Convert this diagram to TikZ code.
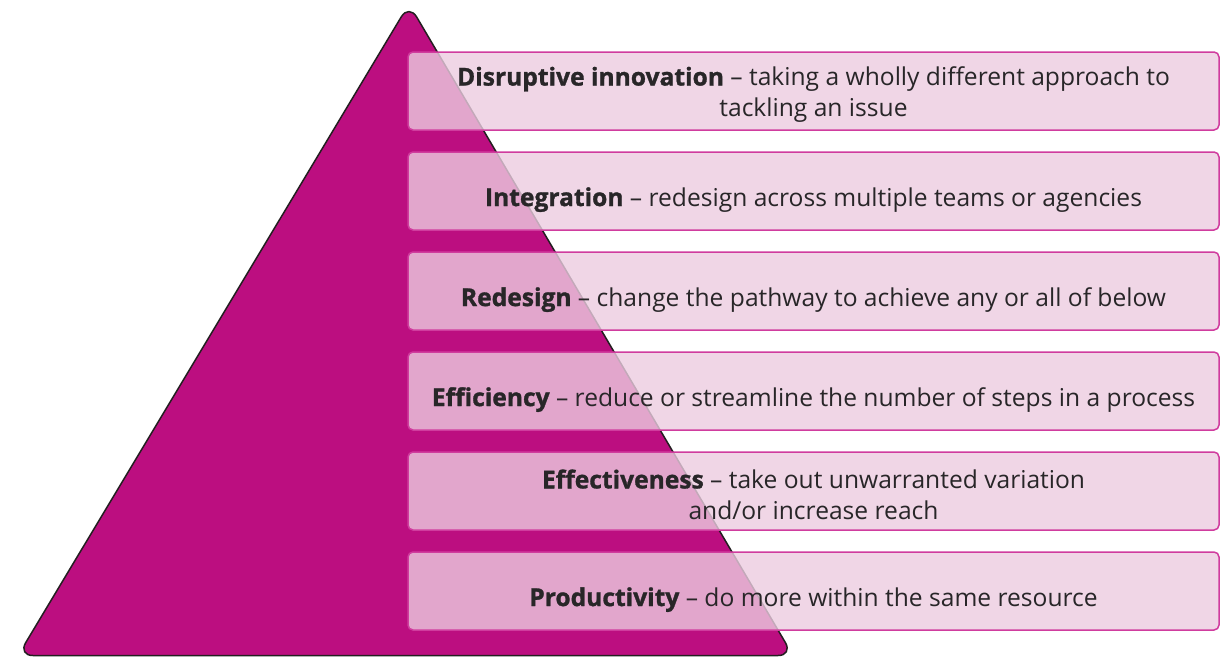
\documentclass[tikz,border=0pt]{standalone}
\usepackage{fontspec}
\setmainfont{Open Sans}[BoldFeatures={FakeBold=1.2}]
\usepackage{tikz}
\definecolor{pyrmag}{RGB}{188,14,128}
\definecolor{pyredge}{RGB}{35,31,32}
\definecolor{layerfill}{RGB}{236,204,224}
\definecolor{layeredge}{RGB}{208,60,158}
\definecolor{textgray}{RGB}{40,38,40}
\newcommand{\liftline}{\rule{0pt}{26pt}}

\begin{document}
\begin{tikzpicture}[x=1pt, y=-1pt,
    layer/.style={shape=rectangle, draw=layeredge, line width=1.5pt, fill=layerfill, fill opacity=0.8, text opacity=1,
      rounded corners=5pt, minimum width=811pt, minimum height=78pt, inner sep=0pt, align=center,
      text=textgray, font=\fontsize{24.6}{31}\selectfont, execute at begin node={\rule{0pt}{36pt}}}]
    \useasboundingbox (0,0) rectangle (1221,657);
    % pyramid
    \draw[fill=pyrmag, draw=pyredge, line width=1.5pt, rounded corners=15pt]
        (400,655.5) -- (18,655.5) -- (409,4) -- (793,655.5) -- cycle;

    \node[layer] (D) at (813.5,91) {\liftline\textbf{Disruptive innovation} -- taking a wholly different approach to\\tackling an issue};
    \node[layer] (I) at (813.5,191) {\textbf{Integration} -- redesign across multiple teams or agencies};
    \node[layer] (R) at (813.5,291) {\textbf{Redesign} -- change the pathway to achieve any or all of below};
    \node[layer] (E1) at (813.5,391) {\textbf{Efficiency} -- reduce or streamline the number of steps in a process};
    \node[layer] (E2) at (813.5,491) {\liftline\textbf{Effectiveness} -- take out unwarranted variation\\and/or increase reach};
    \node[layer] (P) at (813.5,591) {\textbf{Productivity} -- do more within the same resource};
\end{tikzpicture}
\end{document}
